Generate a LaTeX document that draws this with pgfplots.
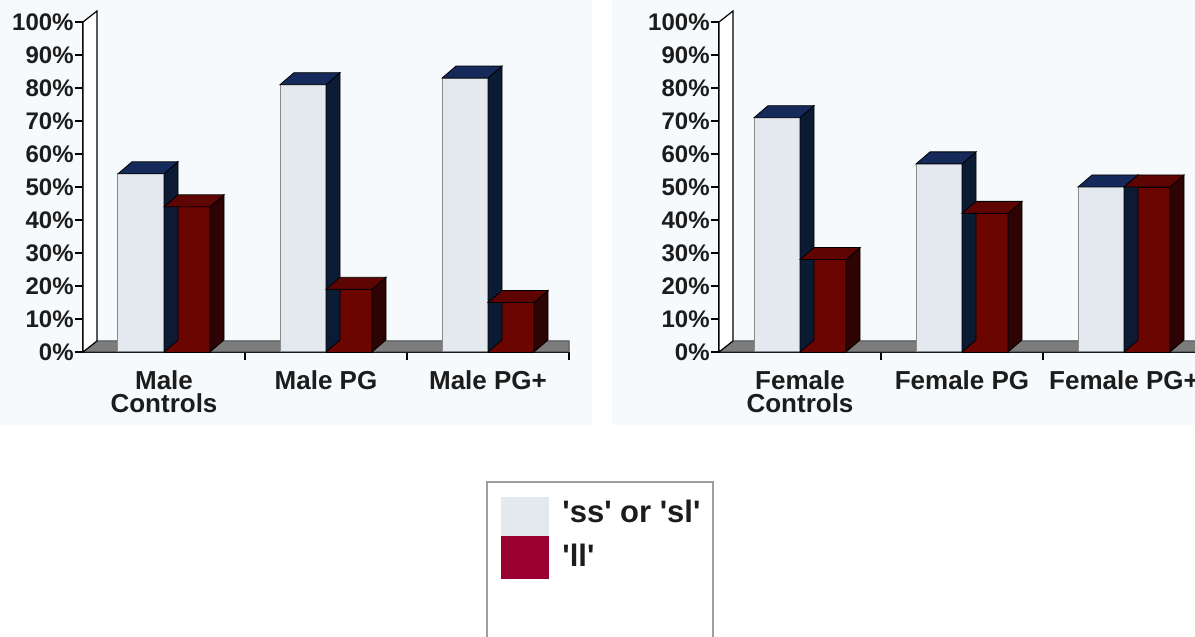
\documentclass[border=0pt]{standalone}
\usepackage{pgfplots}
\pgfplotsset{compat=1.18}
\usepackage{pgfplotstable}
\usepackage{fontspec}
\setmainfont{Liberation Sans}

\definecolor{wfront}{HTML}{E4E8EF}
\definecolor{wedge}{HTML}{8A8A8A}
\definecolor{ntop}{HTML}{15295A}
\definecolor{nside}{HTML}{0B1B33}
\definecolor{rfront}{HTML}{6B0500}
\definecolor{rtop}{HTML}{5E0503}
\definecolor{rside}{HTML}{2E0303}
\definecolor{legred}{HTML}{990030}
\definecolor{floorc}{HTML}{7C7C7C}
\definecolor{panelbg}{HTML}{F7FAFC}
\definecolor{txt}{HTML}{1C1C1C}

\pgfdeclareplotmark{emptymark}{}

\pgfplotstableread{
x ss ll
0 54 44
1 81 19
2 83 15
}\maledata
\pgfplotstableread{
x ss ll
0 71 28
1 57 42
2 50 50
}\femaledata

\pgfplotsset{
  faces3d/.style n args={3}{
    scatter, only marks, mark=emptymark,
    visualization depends on={rawy \as \barval},
    scatter/@pre marker code/.code={%
      \pgfmathsetlengthmacro\barH{\barval*1.65pt}%
      \filldraw[fill=#3, draw=black, line width=0.4pt] (#1pt+11.5pt,0pt) -- (#1pt+18.5pt,6pt) -- (#1pt+18.5pt,6pt-\barH) -- (#1pt+11.5pt,-\barH) -- cycle;
      \filldraw[fill=#2, draw=black, line width=0.4pt] (#1pt-11.5pt,0pt) -- (#1pt+11.5pt,0pt) -- (#1pt+18.5pt,6pt) -- (#1pt-4.5pt,6pt) -- cycle;
      \begin{scope}},
    scatter/@post marker code/.code={\end{scope}},
  },
  panel/.style={
    scale only axis, anchor=south west,
    width=243pt, height=165pt,
    xmin=-0.5, xmax=2.5, ymin=0, ymax=100,
    clip=false,
    axis x line*=bottom, axis y line*=left,
    axis line style={-, black, line width=0.6pt},
    tick align=outside,
    major tick length=4pt,
    tick style={black, line width=0.6pt},
    ytick={0,10,...,100},
    yticklabel={\pgfmathprintnumber{\tick}\%},
    yticklabel style={font=\fontsize{12}{12}\selectfont\bfseries, text=txt, inner sep=0.5pt},
    /pgf/number format/assume math mode=true,
    xtick={0.5,1.5,2.5}, xticklabels={{},{},{}},
    extra x ticks={0,1,2},
    extra x tick style={tick style={draw=none}},
    xticklabel style={font=\fontsize{13}{11.5}\selectfont\bfseries, text=txt, align=center, inner sep=0pt, yshift=-5pt},
  },
}

\newcommand\floorwall{%
  \filldraw[fill=floorc, draw=black!70, line width=0.5pt] (axis cs:-0.5,0) -- (axis cs:2.5,0) -- ([yshift=5.5pt]axis cs:2.5,0) -- ([shift={(7pt,5.5pt)}]axis cs:-0.5,0) -- cycle;
  \filldraw[fill=white, draw=black, line width=0.6pt] (axis cs:-0.5,0) -- (axis cs:-0.5,100) -- ([shift={(7pt,5.5pt)}]axis cs:-0.5,100) -- ([shift={(7pt,5.5pt)}]axis cs:-0.5,0) -- cycle;
}

\begin{document}
\begin{tikzpicture}
\useasboundingbox (0,0) rectangle (597.5pt,318.5pt);
\clip (0,0) rectangle (597.5pt,318.5pt);
\fill[panelbg] (0,106pt) rectangle (296pt,318.5pt);
\fill[panelbg] (306pt,106pt) rectangle (597.5pt,318.5pt);

\begin{axis}[panel, at={(41.5pt,142.5pt)},
  extra x tick labels={{Male\\Controls},{Male PG},{Male PG+}}]
\floorwall
\addplot[ybar, bar width=23pt, bar shift=-11.5pt, fill=wfront, draw=wedge, line width=0.5pt] table[x=x,y=ss]{\maledata};
\addplot[faces3d={-11.5}{ntop}{nside}] table[x=x,y=ss]{\maledata};
\addplot[ybar, bar width=23pt, bar shift=11.5pt, fill=rfront, draw=black, line width=0.4pt] table[x=x,y=ll]{\maledata};
\addplot[faces3d={11.5}{rtop}{rside}] table[x=x,y=ll]{\maledata};
\end{axis}

\begin{axis}[panel, at={(359.5pt,142.5pt)},
  extra x tick labels={{Female\\Controls},{Female PG},{Female PG+}}]
\floorwall
\addplot[ybar, bar width=23pt, bar shift=-11.5pt, fill=wfront, draw=wedge, line width=0.5pt] table[x=x,y=ss]{\femaledata};
\addplot[faces3d={-11.5}{ntop}{nside}] table[x=x,y=ss]{\femaledata};
\addplot[ybar, bar width=23pt, bar shift=11.5pt, fill=rfront, draw=black, line width=0.4pt] table[x=x,y=ll]{\femaledata};
\addplot[faces3d={11.5}{rtop}{rside}] table[x=x,y=ll]{\femaledata};
\end{axis}

% legend
\fill[white] (243.5pt,-5pt) rectangle (356.5pt,77.5pt);
\draw[gray!75, line width=1pt] (243.5pt,-5pt) -- (243.5pt,77.5pt) -- (356.5pt,77.5pt) -- (356.5pt,-5pt);
\fill[wfront] (250.5pt,50.5pt) rectangle (274.5pt,70pt);
\fill[legred] (250.5pt,29pt) rectangle (274.5pt,50.5pt);
\node[anchor=base west, inner sep=0pt, font=\fontsize{15.5}{16}\selectfont\bfseries, text=txt] at (281pt,57pt) {\textquotesingle ss\textquotesingle{} or \textquotesingle sl\textquotesingle};
\node[anchor=base west, inner sep=0pt, font=\fontsize{15.5}{16}\selectfont\bfseries, text=txt] at (281pt,35pt) {\textquotesingle ll\textquotesingle};
\end{tikzpicture}
\end{document}
